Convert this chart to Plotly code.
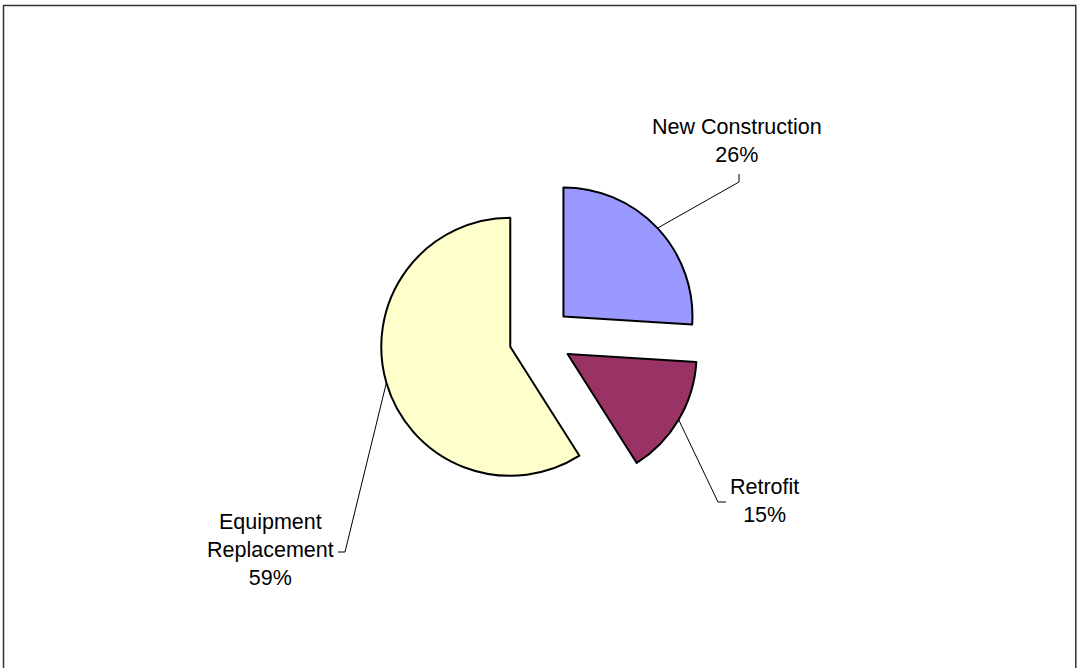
import math
import plotly.graph_objects as go

# ---- data ----
categories = ["New Construction", "Retrofit", "Equipment Replacement"]
label_lines = ["New Construction", "Retrofit", "Equipment<br>Replacement"]
values = [26, 15, 59]
colors = ["#9999FF", "#993366", "#FFFFCC"]

# ---- layout geometry (pixels) ----
W, H = 1077, 668
CX, CY = 540.5, 338.0          # pie centre (before explode)
R = 129.0                      # pie radius
PULL = 0.244                   # explode fraction of radius
HALF = R * (1 + PULL)

def px(x):
    return x / W

def py(y):
    return 1 - y / H

fig = go.Figure(go.Pie(
    labels=categories,
    values=values,
    marker=dict(colors=colors, line=dict(color="black", width=2)),
    pull=[PULL] * len(values),
    sort=False,
    direction="clockwise",
    rotation=0,
    textinfo="none",
    hoverinfo="label+percent",
    showlegend=False,
    domain=dict(x=[px(CX - HALF), px(CX + HALF)], y=[py(CY + HALF), py(CY - HALF)]),
))

# label placement: (elbow point, end point, label centre) in pixels
label_pos = [
    ((739, 182), (739, 174), (737, 141.5)),
    ((718, 502), (726, 502), (764, 500.5)),
    ((345, 552), (338, 552), (270, 550)),
]

total = sum(values)
cum = 0.0
shapes = []
annotations = []
for name, txt, v, (elbow, end, lab) in zip(categories, label_lines, values, label_pos):
    mid = (cum + v / 2) / total * 2 * math.pi
    cum += v
    sx = CX + HALF * math.sin(mid)
    sy = CY - HALF * math.cos(mid)
    path = "M {} {} L {} {} L {} {}".format(px(sx), py(sy), px(elbow[0]), py(elbow[1]),
                                            px(end[0]), py(end[1]))
    shapes.append(dict(type="path", xref="paper", yref="paper", path=path,
                       line=dict(color="black", width=1)))
    pct = round(v / total * 100)
    annotations.append(dict(
        x=px(lab[0]), y=py(lab[1]), xref="paper", yref="paper",
        text=f"{txt}<br>{pct}%", showarrow=False,
        xanchor="center", yanchor="middle", align="center",
        font=dict(family="Liberation Sans, Arial, sans-serif", size=21.5, color="black"),
    ))

# chart border
shapes.append(dict(type="rect", xref="paper", yref="paper",
                   x0=px(3.5), x1=px(1075.8), y0=py(680), y1=py(5.5),
                   line=dict(color="#333333", width=1.5), fillcolor="rgba(0,0,0,0)"))

fig.update_layout(
    width=W, height=H,
    margin=dict(l=0, r=0, t=0, b=0),
    paper_bgcolor="white",
    plot_bgcolor="white",
    shapes=shapes,
    annotations=annotations,
)

fig.write_html(
    "out.html",
    config={"displayModeBar": False},
    post_script="document.body.style.margin='0';document.body.style.overflow='hidden';",
)
